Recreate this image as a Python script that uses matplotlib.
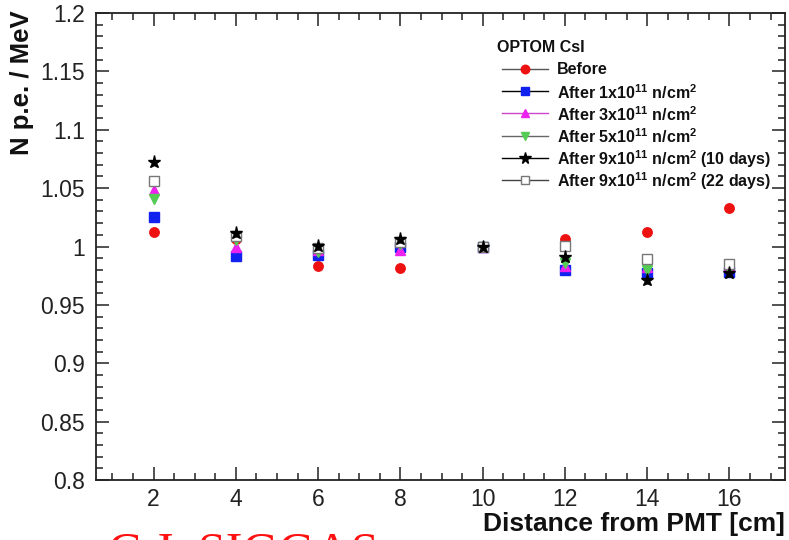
import numpy as np
import matplotlib
matplotlib.use('Agg')
import matplotlib.pyplot as plt
from matplotlib.lines import Line2D
from matplotlib.ticker import MultipleLocator

plt.rcParams['font.family'] = ['Liberation Sans', 'DejaVu Sans']
plt.rcParams['mathtext.fontset'] = 'custom'
plt.rcParams['mathtext.rm'] = 'Liberation Sans'
plt.rcParams['mathtext.bf'] = 'Liberation Sans:bold'

# distance from PMT [cm]
distance = [2, 4, 6, 8, 10, 12, 14, 16]

# N p.e. / MeV, normalised at 10 cm
before = [1.012, 1.006, 0.983, 0.9815, 1.000, 1.006, 1.0126, 1.0326]
after_1e11 = [1.025, 0.992, 0.9926, 1.000, 1.000, 0.980, 0.977, 0.9783]
after_3e11 = [1.048, 1.000, 0.997, 0.997, 1.000, 0.983, 0.9826, 0.984]
after_5e11 = [1.041, 1.0055, 0.9955, 1.002, 1.000, 0.986, 0.980, 0.981]
after_9e11_10d = [1.0726, 1.0112, 1.0003, 1.006, 1.000, 0.9912, 0.9712, 0.977]
after_9e11_22d = [1.0563, 1.009, 0.9986, 1.004, 1.000, 1.0003, 0.9892, 0.9849]
y_err = 0.003

labels = [
    'Before',
    r'After 1x10$^{\mathbf{11}}$ n/cm$^{\mathbf{2}}$',
    r'After 3x10$^{\mathbf{11}}$ n/cm$^{\mathbf{2}}$',
    r'After 5x10$^{\mathbf{11}}$ n/cm$^{\mathbf{2}}$',
    r'After 9x10$^{\mathbf{11}}$ n/cm$^{\mathbf{2}}$ (10 days)',
    r'After 9x10$^{\mathbf{11}}$ n/cm$^{\mathbf{2}}$ (22 days)',
]

# (values, marker, face, edge, size, legend line colour, zorder)
series = [
    (before, 'o', '#ee1111', '#ee1111', 6.8, '#555555', 2),
    (after_1e11, 's', '#1122ee', '#1122ee', 6.5, 'black', 3),
    (after_3e11, '^', '#ee22ee', '#ee22ee', 6.8, '#cc44cc', 4),
    (after_5e11, 'v', '#55cc55', '#55cc55', 6.8, '#666666', 5),
    (after_9e11_10d, '*', 'black', 'black', 9.5, 'black', 7),
    (after_9e11_22d, 's', 'white', '#777777', 7.0, '#444444', 6),
]

W, H = 789, 540
fig = plt.figure(figsize=(7.89, 5.40), dpi=100)
ax = fig.add_axes([96 / W, 60 / H, 689 / W, 467 / H])

for vals, mk, fc, ec, ms, lc, z in series:
    ax.errorbar(distance, vals, yerr=y_err, fmt=mk, ms=ms, mfc=fc, mec=ec,
                mew=1.0, ecolor=ec, elinewidth=1.0, capsize=0, zorder=z)

ax.set_xlim(0.6, 17.35)
ax.set_ylim(0.8, 1.2)
ax.xaxis.set_major_locator(MultipleLocator(2))
ax.xaxis.set_minor_locator(MultipleLocator(0.5))
ax.yaxis.set_minor_locator(MultipleLocator(0.01))
ax.set_yticks(np.arange(0.8, 1.2001, 0.05))
ax.set_yticklabels(['0.8', '0.85', '0.9', '0.95', '1', '1.05', '1.1', '1.15', '1.2'])

ax.tick_params(which='both', direction='in', top=True, right=True, width=1.1,
               colors='#222222', labelcolor='#222222', labelsize=16.5)
ax.tick_params(which='major', length=9.5)
ax.tick_params(which='minor', length=5)
ax.tick_params(axis='x', pad=6)
ax.tick_params(axis='y', pad=8)
for sp in ax.spines.values():
    sp.set_linewidth(1.3)
    sp.set_color('#222222')

fig.text(785 / W, 1 - 524 / H, 'Distance from PMT [cm]', ha='right', va='center',
         fontsize=19, fontweight='bold', color='#111111')
fig.text(22 / W, 1 - 10 / H, 'N p.e. / MeV', ha='center', va='top', rotation=90,
         fontsize=18.5, fontweight='bold', color='#111111')

# legend, ROOT style: title and one row per series
fig.text(497 / W, 1 - 47 / H, 'OPTOM CsI', ha='left', va='center',
         fontsize=11.5, fontweight='bold', color='#111111')
for i, ((vals, mk, fc, ec, ms, lc, z), lab) in enumerate(zip(series, labels)):
    yy = 1 - (69 + 22.2 * i) / H
    fig.add_artist(Line2D([502 / W, 548 / W], [yy, yy], color=lc, lw=1.0,
                          transform=fig.transFigure))
    fig.add_artist(Line2D([525 / W], [yy], marker=mk, ms=ms * 0.9, mfc=fc, mec=ec,
                          mew=1.0, linestyle='none', transform=fig.transFigure))
    fig.text(557 / W, yy - 1 / H, lab, ha='left', va='center',
             fontsize=11.5, fontweight='bold', color='#111111')

fig.text(108 / W, 1 - 531 / H, 'C.J. SIGGAS', ha='left', va='top',
         fontsize=36, color='#ff1111', family='Liberation Serif')

fig.savefig('out.png', dpi=100)
